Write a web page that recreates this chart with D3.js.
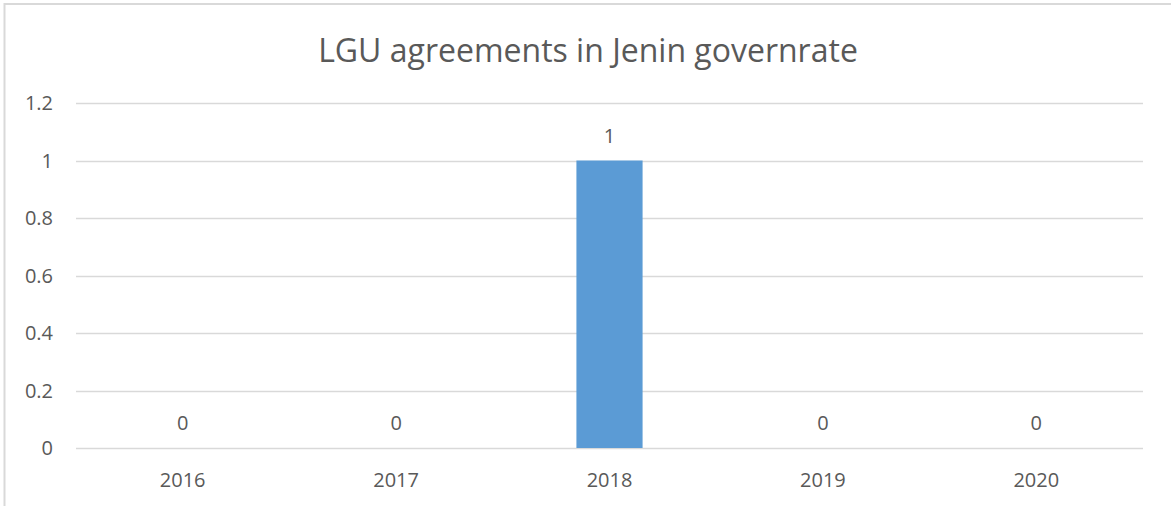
<!DOCTYPE html>
<html>
<head>
<meta charset="utf-8">
<script src="https://cdn.jsdelivr.net/npm/d3@7"></script>
<style>
  html, body { margin: 0; padding: 0; background: #fff; }
  svg text { font-family: "Open Sans", "Noto Sans", sans-serif; fill: #595959; }
</style>
</head>
<body>
<svg id="viz" width="1171" height="506"></svg>
<script>
/* LGU agreements bar chart */

const years  = ["2016", "2017", "2018", "2019", "2020"];
const counts = [0, 0, 1, 0, 0];
const yTicks = [0, 0.2, 0.4, 0.6, 0.8, 1, 1.2];
const title  = "LGU agreements in Jenin governrate";

const svg = d3.select("#viz");

// chart frame (only top and left edges show in the picture)
svg.append("path")
  .attr("d", "M4.5,506 V4 H1171")
  .attr("fill", "none")
  .attr("stroke", "#d9d9d9")
  .attr("stroke-width", 2);

const plot = { left: 76, right: 1143, top: 103, bottom: 448 };

const x = d3.scaleBand()
  .domain(years)
  .range([plot.left, plot.right])
  .paddingInner(0.69)
  .paddingOuter(0.345);

const y = d3.scaleLinear()
  .domain([0, 1.2])
  .range([plot.bottom, plot.top]);

/* -- gridlines --------------------------------------------------------- */
svg.append("g")
  .selectAll("line")
  .data(yTicks)
  .join("line")
    .attr("x1", plot.left)
    .attr("x2", plot.right)
    .attr("y1", d => Math.round(y(d)) + 0.5)
    .attr("y2", d => Math.round(y(d)) + 0.5)
    .attr("stroke", "#d9d9d9")
    .attr("stroke-width", 1.5);

/* -- y axis labels ----------------------------------------------------- */
svg.append("g")
  .selectAll("text")
  .data(yTicks)
  .join("text")
    .attr("x", 53)
    .attr("y", d => y(d))
    .attr("dy", "0.35em")
    .attr("text-anchor", "end")
    .attr("font-size", 20)
    .text(d => d3.format("~g")(d));

/* -- bars -------------------------------------------------------------- */
svg.append("g")
  .selectAll("rect")
  .data(years)
  .join("rect")
    .attr("x", d => x(d))
    .attr("width", x.bandwidth())
    .attr("y", (d, i) => y(counts[i]))
    .attr("height", (d, i) => y(0) - y(counts[i]))
    .attr("fill", "#5b9bd5");

/* -- value labels ------------------------------------------------------ */
svg.append("g")
  .selectAll("text")
  .data(years)
  .join("text")
    .attr("x", d => x(d) + x.bandwidth() / 2)
    .attr("y", (d, i) => y(counts[i]) - 18)
    .attr("text-anchor", "middle")
    .attr("font-size", 20)
    .text((d, i) => counts[i]);

/* -- x axis labels ----------------------------------------------------- */
svg.append("g")
  .selectAll("text")
  .data(years)
  .join("text")
    .attr("x", d => x(d) + x.bandwidth() / 2)
    .attr("y", 487)
    .attr("text-anchor", "middle")
    .attr("font-size", 20)
    .text(d => d);

/* -- title ------------------------------------------------------------- */
svg.append("text")
  .attr("x", 588)
  .attr("y", 62)
  .attr("text-anchor", "middle")
  .attr("font-size", 32)
  .text(title);
</script>
</body>
</html>
